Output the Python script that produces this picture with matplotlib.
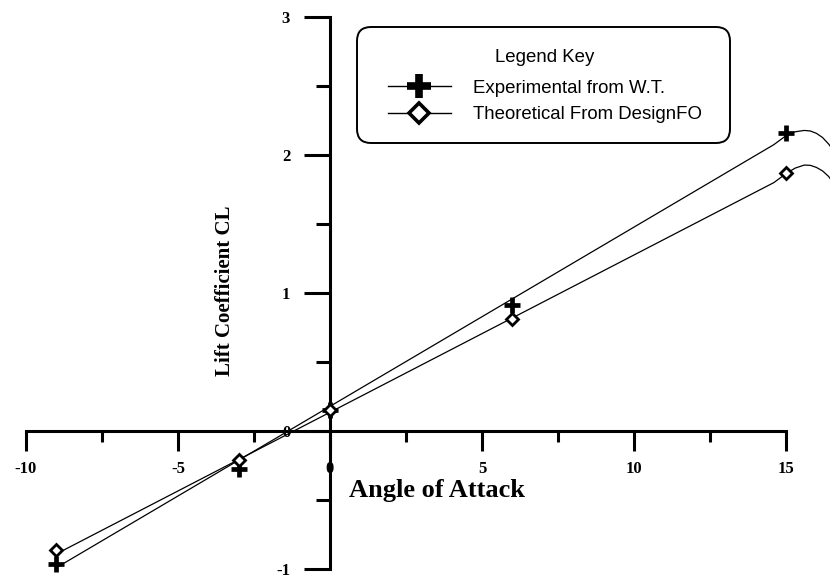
import matplotlib
matplotlib.use("Agg")
import matplotlib.pyplot as plt
from matplotlib.lines import Line2D
from matplotlib.patches import FancyBboxPatch
from matplotlib.transforms import IdentityTransform
from matplotlib.ticker import MultipleLocator

plt.rcParams['axes.unicode_minus'] = False

# measured points (markers)
alpha = [-9, -3, 0, 6, 15]
cl_exp = [-0.96, -0.275, 0.15, 0.91, 2.16]
cl_theo = [-0.86, -0.21, 0.15, 0.81, 1.87]

# drawn curves
exp_curve_x = [-9, 14.6, 15.0, 15.3, 15.6, 15.8, 16.0, 16.2, 16.4, 16.5]
exp_curve_y = [-0.99, 2.075, 2.14, 2.168, 2.178, 2.174, 2.157, 2.127, 2.08, 2.05]
theo_curve_x = [-9, 14.6, 15.0, 15.3, 15.6, 15.8, 16.0, 16.2, 16.4, 16.5]
theo_curve_y = [-0.89, 1.80, 1.865, 1.905, 1.927, 1.925, 1.91, 1.885, 1.845, 1.815]

x_ticks = [-10, -5, 0, 5, 10, 15]
y_ticks = [-1, 0, 1, 2, 3]
labels = ["Experimental from W.T.", "Theoretical From DesignFO"]

serif = ['Liberation Serif', 'DejaVu Serif']
sans = ['Liberation Sans', 'DejaVu Sans']

fig = plt.figure(figsize=(8.3, 5.75), dpi=100)
ax = fig.add_axes([0, 0, 1, 1])
ax.set_xlim(-10.855, 16.447)
ax.set_ylim(-1.043, 3.123)

ax.plot(exp_curve_x, exp_curve_y, color='black', lw=0.9, zorder=2)
ax.plot(theo_curve_x, theo_curve_y, color='black', lw=0.9, zorder=2)
ax.plot(alpha, cl_exp, ls='none', marker='+', ms=11, mew=3.4, color='black', zorder=3)
ax.plot(alpha, cl_theo, ls='none', marker='D', ms=6.5, mew=2, mfc='white',
        mec='black', zorder=3)

# axes through the origin
for s in ['top', 'right']:
    ax.spines[s].set_visible(False)
ax.spines['left'].set_position(('data', 0))
ax.spines['bottom'].set_position(('data', 0))
ax.spines['left'].set_bounds(-1, 3)
ax.spines['bottom'].set_bounds(-10, 15)
for s in ['left', 'bottom']:
    ax.spines[s].set_linewidth(2.2)

ax.set_xticks(x_ticks)
ax.set_yticks(y_ticks)
ax.xaxis.set_minor_locator(MultipleLocator(2.5))
ax.yaxis.set_minor_locator(MultipleLocator(0.5))
ax.tick_params(axis='x', which='major', direction='out', length=14.4, width=2.2, pad=7)
ax.tick_params(axis='x', which='minor', direction='out', length=8, width=2.2)
ax.tick_params(axis='y', which='major', direction='out', length=18.7, width=2.2, pad=10)
ax.tick_params(axis='y', which='minor', direction='out', length=10, width=2.2)
for lab in ax.get_xticklabels() + ax.get_yticklabels():
    lab.set_fontfamily(serif)
    lab.set_fontweight('bold')
    lab.set_fontsize(12)

fig.text(437 / 830, 1 - 490 / 575, "Angle of Attack", family=serif, weight='bold',
         size=19, ha='center', va='center')
fig.text(225 / 830, 1 - 291 / 575, "Lift Coefficient CL", family=serif, weight='bold',
         size=15, rotation=90, ha='center', va='center')

# legend with rounded frame
frame = FancyBboxPatch((357, 575 - 143), 373, 116,
                       boxstyle='round,pad=0,rounding_size=14',
                       transform=IdentityTransform(), facecolor='white',
                       edgecolor='black', lw=1.4, zorder=5)
fig.add_artist(frame)
fig.text(545 / 830, 1 - 58 / 575, "Legend Key", family=sans, size=13.4,
         ha='center', va='center', zorder=7)
handles = [
    Line2D([], [], color='black', lw=1.0, marker='+', ms=17, mew=5.5),
    Line2D([], [], color='black', lw=1.0, marker='D', ms=10, mew=2.6, mfc='white'),
]
leg = fig.legend(handles, labels, loc='center', bbox_to_anchor=(545 / 830, 1 - 101.5 / 575),
                 frameon=False, handlelength=3.4,
                 handletextpad=1.2, labelspacing=0.52, borderpad=0,
                 prop={'family': sans, 'size': 13.4})
leg.set_zorder(6)

fig.savefig("out.png", dpi=100)
